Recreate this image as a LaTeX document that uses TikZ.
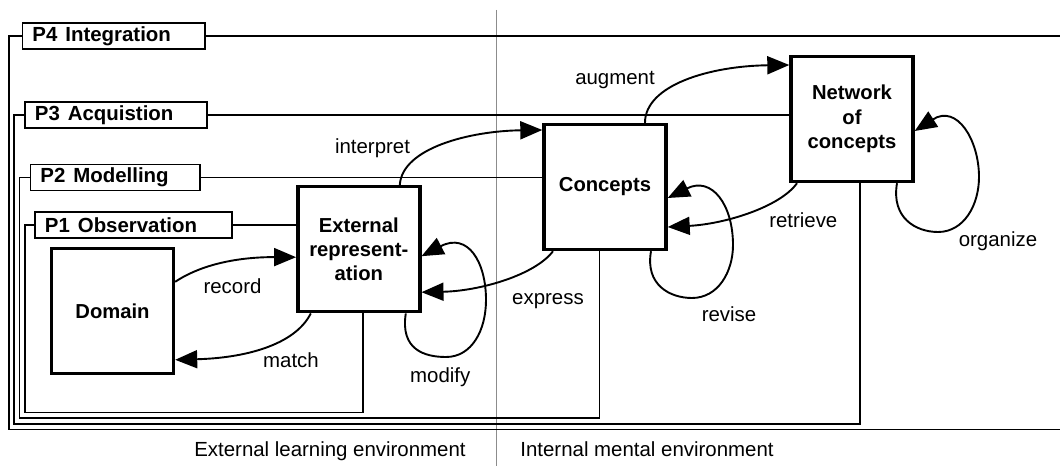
\documentclass[tikz,border=0pt]{standalone}
\usepackage{fontspec}
\setmainfont{Liberation Sans}
\usetikzlibrary{arrows.meta}
\begin{document}
\begin{tikzpicture}[x=1bp,y=-1bp,
  font=\fontsize{20.5}{24}\selectfont,
  bigbox/.style={draw,line width=3.4bp,minimum width=122bp,minimum height=125bp,inner sep=0pt,align=center,font=\fontsize{20.3}{24.5}\selectfont\bfseries},
  pbox/.style={draw,line width=1.8bp,anchor=west,minimum height=26bp,inner xsep=10bp,inner ysep=0pt,align=left,font=\fontsize{20.5}{24}\selectfont\bfseries},
  frame/.style={line width=1.9bp},
  conn/.style={line width=1.9bp,-{Triangle[length=22bp,width=18bp]}},
  lbl/.style={anchor=base,inner sep=0pt},
  divider/.style={draw=black!45,line width=0.7bp}
]
\useasboundingbox (0,0) rectangle (1060,466);

% environment divider
\coordinate (dtop) at (496,10);
\coordinate (dbot) at (496,466);
\draw[divider] (dtop) -- (dbot);

% main boxes
\node[bigbox] (dom) at (112.5,310.8) {Domain};
\node[bigbox] (ext) at (358.8,249.2) {External\\represent-\\ation};
\node[bigbox] (conc) at (605,187) {Concepts};
\node[bigbox] (net) at (852,119) {Network\\of\\concepts};

% phase label boxes
\node[pbox,text width=162.5bp] (p4) at (21.5,35.8) {P4\hspace{8bp}Integration};
\node[pbox,text width=162.3bp] (p3) at (24,114.8) {P3\hspace{8bp}Acquistion};
\node[pbox,text width=149.8bp] (p2) at (29.5,177.5) {P2\hspace{8bp}Modelling};
\node[pbox,text width=177bp] (p1) at (34,225) {P1\hspace{8bp}Observation};

% phase frames
\coordinate (p4right) at (1060,36);
\coordinate (p4end) at (1060,429.5);
\draw[frame] (p4.east) -- (p4.east -| p4right);
\draw[frame] (p4.west) -| (9,429.5) -- (p4end);

\draw[frame] (p3.east) -- (p3.east -| net.west);
\draw[frame] (p3.west) -| (14,424) -| ([xshift=8bp]net.south);

\draw[frame] (p2.east) -- (p2.east -| conc.west);
\draw[frame] (p2.west) -| (19.5,418) -| ([xshift=-5.5bp]conc.south);

\draw[frame] (p1.east) -- (p1.east -| ext.west);
\draw[frame] (p1.west) -| (25,412.5) -| ([xshift=4bp]ext.south);

% connectors
\draw[conn] ([yshift=29bp]dom.east) .. controls (205,262) and (245,257) .. ([yshift=-8bp]ext.west);
\draw[conn] ([xshift=-48bp]ext.south) .. controls (295,345) and (245,358) .. ([yshift=-49bp]dom.east);
\draw[conn] ([xshift=41bp]ext.north) .. controls (402,148) and (470,131) .. ([yshift=57bp]conc.west);
\draw[conn] ([xshift=-52bp]conc.south) .. controls (535,275) and (480,291) .. ([yshift=-43bp]ext.east);
\draw[conn] ([xshift=40bp]conc.north) .. controls (645,85) and (710,66) .. ([yshift=54bp]net.west);
\draw[conn] ([xshift=-55bp]net.south) .. controls (780,207) and (725,224) .. ([yshift=-40bp]conc.east);

% self loops
\draw[conn] ([xshift=47bp]ext.south) .. controls (400,350) and (425,357) .. (446,357)
  .. controls (472,357) and (486,330) .. (486,300)
  .. controls (486,262) and (468,232) .. ([yshift=-7bp]ext.east);
\draw[conn] ([xshift=46bp]conc.south) .. controls (645,285) and (670,298) .. (692,298)
  .. controls (718,298) and (733,272) .. (733,245)
  .. controls (733,205) and (712,176) .. ([yshift=-11bp]conc.east);
\draw[conn] ([xshift=45bp]net.south) .. controls (891,218) and (916,232) .. (938,232)
  .. controls (964,232) and (979,205) .. (979,177)
  .. controls (979,140) and (957,104) .. ([yshift=-12bp]net.east);

% labels
\node[lbl] (lrecord) at (232.5,294) {record};
\node[lbl] (lmatch) at (291,367.3) {match};
\node[lbl] (linterp) at (372.5,153.3) {interpret};
\node[lbl] (lexpress) at (548,305) {express};
\node[lbl] (lmodify) at (440.3,383) {modify};
\node[lbl] (laugment) at (615,85) {augment};
\node[lbl] (lretrieve) at (803.3,227.7) {retrieve};
\node[lbl] (lrevise) at (729,321.7) {revise};
\node[lbl] (lorganize) at (998,246.7) {organize};
\node[lbl] (lext) at (330,456.7) {External learning environment};
\node[lbl] (lint) at (647,456.7) {Internal mental environment};
\end{tikzpicture}
\end{document}
